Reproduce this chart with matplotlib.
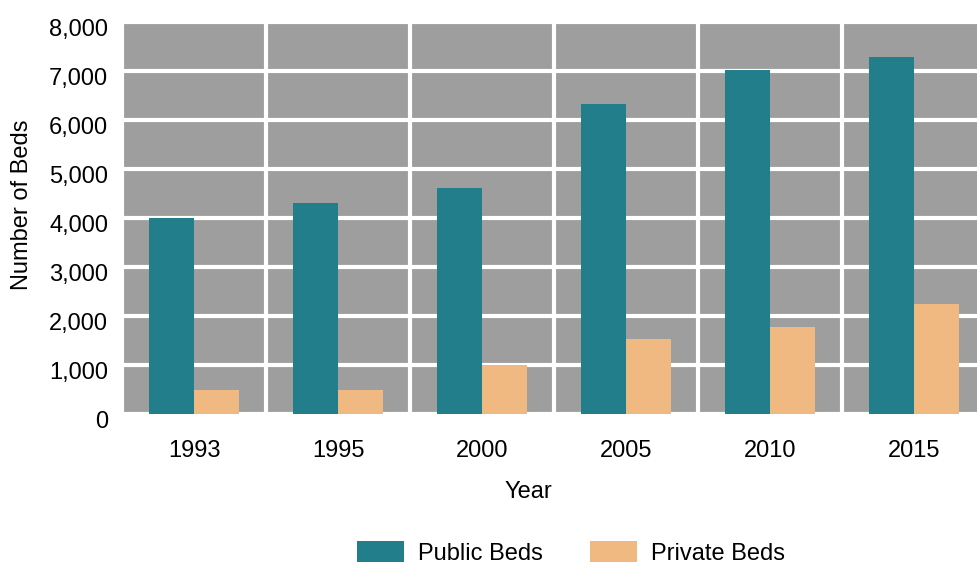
#!/usr/bin/env python3
"""
Hospital bed counts by year, public vs private, as grouped bars.
"""

import matplotlib
matplotlib.use("Agg")
import matplotlib.pyplot as plt
import matplotlib.transforms as mtransforms
from matplotlib.patches import Patch
from matplotlib.ticker import FuncFormatter
import numpy as np


years = ["1993", "1995", "2000", "2005", "2010", "2015"]
public_beds = [4000, 4310, 4610, 6330, 7020, 7280]
private_beds = [500, 500, 1000, 1530, 1780, 2240]
y_ticks = [0, 1000, 2000, 3000, 4000, 5000, 6000, 7000, 8000]

PUBLIC_COLOR = "#227E8A"
PRIVATE_COLOR = "#F0B981"
PANEL_COLOR = "#9E9E9E"
FS = 17


def main():
    plt.rcParams["font.family"] = ["Liberation Sans", "DejaVu Sans"]

    fig = plt.figure(figsize=(9.77, 5.72), dpi=100)
    ax = fig.add_axes([122 / 977, 1 - 414 / 572, 864 / 977, 392 / 572])
    ax.set_facecolor(PANEL_COLOR)

    x = np.arange(len(years))
    w = 0.3125
    ax.bar(x - w / 2, public_beds, width=w, color=PUBLIC_COLOR, zorder=3)
    ax.bar(x + w / 2, private_beds, width=w, color=PRIVATE_COLOR, zorder=3)

    ax.set_xlim(-0.5, len(years) - 0.5)
    ax.set_ylim(0, 8000)

    # white grid: horizontal at each tick, vertical between year groups
    for v in y_ticks:
        ax.axhline(v, color="white", linewidth=3, zorder=2, clip_on=False)
    for b in np.arange(-0.5, len(years), 1.0):
        ax.axvline(b, color="white", linewidth=3, zorder=2, clip_on=False)

    for s in ax.spines.values():
        s.set_visible(False)

    ax.set_xticks(x)
    ax.set_xticklabels(years)
    ax.set_yticks(y_ticks)
    ax.yaxis.set_major_formatter(FuncFormatter(lambda v, p: f"{int(v):,}"))
    ax.tick_params(axis="both", length=0, labelsize=FS, colors="black")
    ax.tick_params(axis="y", pad=10)
    ax.tick_params(axis="x", pad=19)

    # y labels sit a little below their grid line
    shift = mtransforms.ScaledTranslation(0, -4 / 72, fig.dpi_scale_trans)
    for t in ax.yaxis.get_major_ticks():
        t.label1.set_va("center_baseline")
        t.label1.set_transform(t.label1.get_transform() + shift)

    fig.text(528 / 977, 1 - 492 / 572, "Year", ha="center", va="center", fontsize=FS)
    fig.text(22 / 977, 1 - 205 / 572, "Number of Beds", rotation=90,
             ha="center", va="center", fontsize=FS)

    handles = [Patch(facecolor=PUBLIC_COLOR), Patch(facecolor=PRIVATE_COLOR)]
    fig.legend(handles, ["Public Beds", "Private Beds"], loc="center",
               bbox_to_anchor=(571 / 977, 1 - 553 / 572), ncol=2, frameon=False,
               fontsize=FS, handlelength=2.0, handleheight=1.0,
               handletextpad=0.6, columnspacing=2.0)

    fig.savefig("out.png", dpi=100)
    plt.close(fig)


if __name__ == "__main__":
    main()
